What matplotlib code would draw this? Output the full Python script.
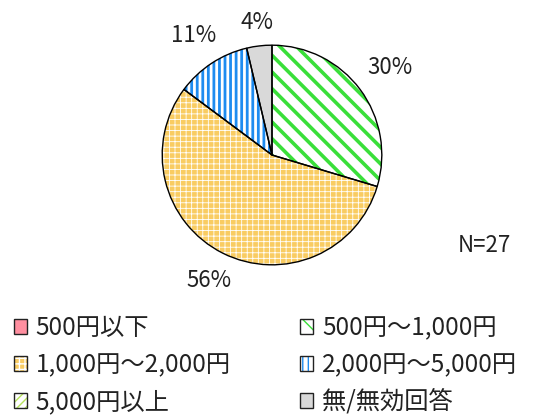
import numpy as np
import matplotlib
matplotlib.use("Agg")
import matplotlib.pyplot as plt
from matplotlib.patches import Patch, Wedge

plt.rcParams['font.family'] = ['Noto Sans CJK JP', 'DejaVu Sans']

# data (N=27)
labels = ["500円以下", "500円〜1,000円", "1,000円〜2,000円",
          "2,000円〜5,000円", "5,000円以上", "無/無効回答"]
counts = [0, 8, 15, 3, 0, 1]
n_total = 27

faces = ["#FF8FA0", "white", "#F9CC62", "white", "white", "#D9D9D9"]
hatch_cols = ["#FF8FA0", "#3ADF3A", "#FFFFFF", "#1E8CF0", "#B5E35A", "#D9D9D9"]
hatches = [None, "\\\\", "+++", "|||", "////", None]
hatch_lw = [1, 2.6, 0.6, 2.0, 2.0, 1]

fig = plt.figure(figsize=(5.49, 4.17), dpi=100)
W, H = 549, 417
cx, cy, r = 272, 155, 112
ax = fig.add_axes([(cx - r) / W, (H - cy - r) / H, 2 * r / W, 2 * r / H])

def pct(p):
    return f"{p:.0f}%" if p > 0.5 else ""

wedges, _, autotexts = ax.pie(counts, colors=faces, startangle=90, counterclock=False,
                              radius=1, autopct=pct, pctdistance=1.25,
                              wedgeprops=dict(linewidth=0),
                              textprops=dict(fontsize=16, color="#222222"))

# hatch overlay, one wedge at a time so each gets its own hatch width
for w, h, hc, lw in zip(wedges, hatches, hatch_cols, hatch_lw):
    if not h or w.theta2 - w.theta1 <= 0:
        continue
    with plt.rc_context({'hatch.linewidth': lw}):
        hp = Wedge(w.center, w.r, w.theta1, w.theta2, facecolor="none",
                   edgecolor=hc, hatch=h, linewidth=0)
    ax.add_patch(hp)

# outlines
for w in wedges:
    if w.theta2 - w.theta1 <= 0:
        continue
    ax.add_patch(Wedge(w.center, w.r, w.theta1, w.theta2, facecolor="none",
                       edgecolor="black", linewidth=1.0))

# place percent labels just outside the rim (Excel "outside end" style)
for w, t in zip(wedges, autotexts):
    if not t.get_text():
        continue
    ang = np.deg2rad((w.theta1 + w.theta2) / 2)
    c, s = np.cos(ang), np.sin(ang)
    d = 1.12 + abs(c) * 0.22 + abs(s) * 0.07
    t.set_position((d * c, d * s))
    t.set_ha("center")
    t.set_va("center")

ax.set_xlim(-1.02, 1.02)
ax.set_ylim(-1.02, 1.02)

fig.text(484 / W, 1 - 246 / H, f"N={n_total}", fontsize=16, ha="center", va="center",
         color="#222222")

handles = []
for f, h, hc, lw in zip(faces, hatches, hatch_cols, hatch_lw):
    base = Patch(facecolor=f, edgecolor="none", linewidth=0)
    with plt.rc_context({'hatch.linewidth': min(lw, 1.5)}):
        hat = Patch(facecolor="none", edgecolor=hc, hatch=h, linewidth=0)
    border = Patch(facecolor="none", edgecolor="#222222", linewidth=1.0)
    handles.append((base, hat, border))
order = [0, 2, 4, 1, 3, 5]
leg = fig.legend([handles[i] for i in order], [labels[i] for i in order],
                 ncol=2, loc="upper left", bbox_to_anchor=(0.025, 1 - 315 / H),
                 frameon=False, fontsize=17.5, handlelength=0.55, handleheight=0.55,
                 handletextpad=0.35, labelspacing=0.45, columnspacing=2.85,
                 borderaxespad=0, borderpad=0)
for t in leg.get_texts():
    t.set_color("#222222")

fig.savefig("out.png", dpi=100)
